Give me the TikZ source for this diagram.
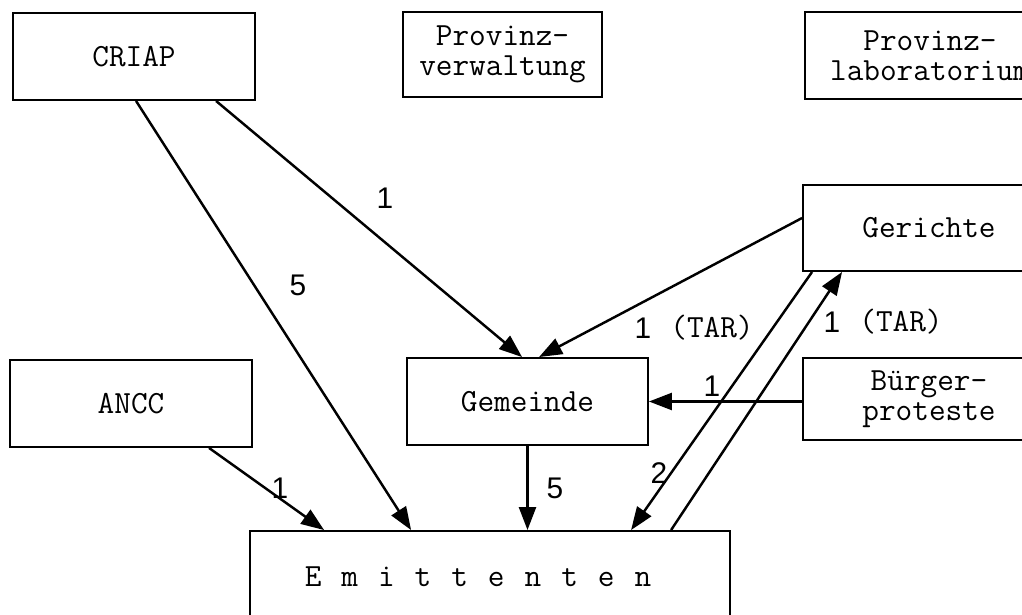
\documentclass[tikz,border=0pt]{standalone}
\usepackage{fontspec}
\setsansfont{Liberation Sans}
\usetikzlibrary{arrows.meta,calc}

\begin{document}
\begin{tikzpicture}[
 x=0.02cm,y=-0.02cm,
 every node/.style={font=\fontsize{18.4pt}{17pt}\selectfont\ttfamily},
 block/.style={draw,line width=1.1pt,inner sep=0pt,align=center,
  minimum width=4.84cm,minimum height=1.74cm},
 flow/.style={line width=1.4pt,-{Triangle[length=0.46cm,width=0.34cm]}},
 num/.style={font=\fontsize{17pt}{18pt}\selectfont\sffamily,inner sep=0pt}
]
 \clip (0,0) rectangle (1022,615);

 % boxes, placed at their centres (pixel grid of the scan)
 \node[block] (criap) at (134,56.5) {CRIAP};
 \node[block,minimum width=3.98cm,minimum height=1.70cm] (prov) at (502.5,54.5)
  {Provinz-\\verwaltung};
 \node[block,minimum width=5.00cm] (lab) at (930,55.5) {Provinz-\\laboratorium};
 \node[block,minimum width=5.04cm,minimum height=1.72cm] (ger) at (929,228) {Gerichte};
 \node[block,minimum width=5.04cm,minimum height=1.64cm] (buerg) at (929,399)
  {Bürger-\\proteste};
 \node[block,minimum width=4.82cm] (gem) at (527.5,401.5) {Gemeinde};
 \node[block] (ancc) at (131,403.5) {ANCC};
 \node[block,minimum width=9.60cm,minimum height=1.84cm] (emit) at (490,577)
  {\spaceskip=0.40cm\relax E m i t t e n t e n\hspace*{0.48cm}};

 % connectors
 \draw[flow] ($(criap.south west)+(124,0)$) -- ($(emit.north west)+(162,0)$);
 \draw[flow] ($(criap.south west)+(204,0)$) -- ($(gem.north west)+(116,0)$);
 \draw[flow] ($(ger.west)+(0,-10)$) -- ($(gem.north west)+(133,0)$);
 \draw[flow] (buerg.west |- gem.east) -- (gem.east);
 \draw[flow] ($(ger.south west)+(10,0)$) -- ($(emit.north west)+(382,0)$);
 \draw[flow] ($(emit.north west)+(422,0)$) -- ($(ger.south west)+(40,0)$);
 \draw[flow] (gem.south) -- (gem.south |- emit.north);
 \draw[flow] ($(ancc.south west)+(200,0)$) -- ($(emit.north west)+(75,0)$);

 % labels
 \node[num] (n5a) at (298,285) {5};
 \node[num] (n1a) at (385,198) {1};
 \node[num] (n1b) at (643,328) {1};
 \node (tarb) at (712,328) {(TAR)};
 \node[num] (n1c) at (832,322) {1};
 \node (tarc) at (901,322) {(TAR)};
 \node[num] (n1d) at (712,386) {1};
 \node[num] (n2) at (659,473) {2};
 \node[num] (n5b) at (555,488) {5};
 \node[num] (n1e) at (280,488) {1};
\end{tikzpicture}
\end{document}
